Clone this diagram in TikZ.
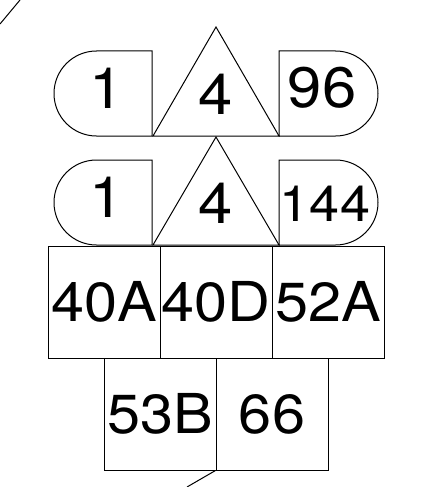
\documentclass[tikz,border=0pt]{standalone}
\usepackage{fontspec}
\setmainfont{TeX Gyre Heros}[FakeStretch=1.08]
\begin{document}
\begin{tikzpicture}[x=1pt,y=-1pt,line width=1pt,line join=miter,
  lbl/.style={inner sep=0pt,font=\fontsize{57}{57}\selectfont},
  sqbox/.style={draw,minimum width=112pt,minimum height=112pt,inner sep=0pt,font=\fontsize{55}{55}\selectfont}]
\useasboundingbox (0,0) rectangle (425,487);
% row 1
\draw (152,51) -- (96.5,51) arc[start angle=-90,end angle=-270,radius=42.5] -- (152,136) -- cycle;
\draw (153,136) -- (216,27) -- (279,136) -- cycle;
\draw (279,51) -- (335.5,51) arc[start angle=-90,end angle=90,radius=42.5] -- (279,136) -- cycle;
\node[lbl] (a1) at (107,88) {1};
\node[lbl] (a2) at (216,94) {4};
\node[lbl] (a3) at (322,88) {96};
% row 2
\draw (152,160) -- (96.5,160) arc[start angle=-90,end angle=-270,radius=42.5] -- (152,245) -- cycle;
\draw (153,245) -- (216,137) -- (279,245) -- cycle;
\draw (279,160) -- (335.5,160) arc[start angle=-90,end angle=90,radius=42.5] -- (279,245) -- cycle;
\node[lbl] (b1) at (107,197.5) {1};
\node[lbl] (b2) at (216,203) {4};
\node[lbl,font=\fontsize{50}{50}\selectfont] (b3) at (325,204) {144};
% row 3
\node[sqbox] (c1) at (104,302) {40A};
\node[sqbox] (c2) at (216,302) {40D};
\node[sqbox] (c3) at (328,302) {52A};
% row 4
\node[sqbox] (d1) at (160,414) {53B};
\node[sqbox] (d2) at (272,414) {66};
% connectors
\coordinate (t1) at (0,24);
\coordinate (t2) at (20,0);
\draw (t1) -- (t2);
\coordinate (e1) at (187,487);
\draw (d2.south west) -- (e1);
\end{tikzpicture}
\end{document}
